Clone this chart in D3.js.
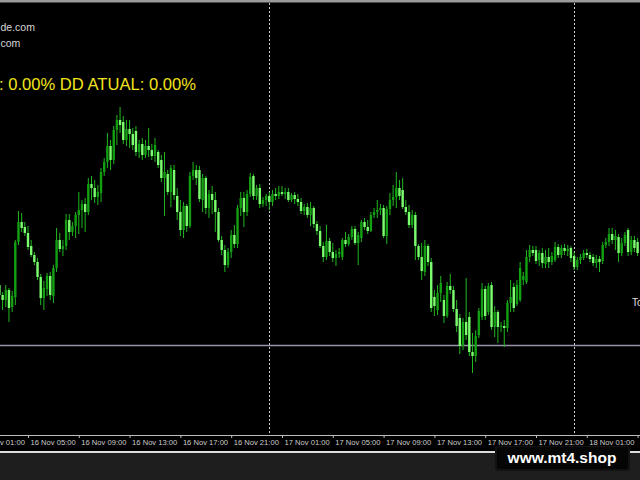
<!DOCTYPE html>
<html><head><meta charset="utf-8">
<script src="https://cdn.jsdelivr.net/npm/d3@7"></script>
<style>html,body{margin:0;padding:0;background:#000;overflow:hidden}</style>
</head><body>
<svg id="c" width="640" height="480"></svg>
<script>
// ---- data (XAUUSD M15) ----
const startTime = "2023-11-16T02:45:00Z";
const barMinutes = 15;
const opens = [
1971.5,1970.5,1970.0,1971.0,1969.3,1970.3,1975.8,1977.8,1977.3,1976.7,
1975.4,1974.5,1973.8,1972.3,1970.2,1971.1,1972.4,1970.4,1973.2,1976.0,
1975.1,1975.4,1978.0,1976.8,1977.4,1978.5,1979.0,1979.6,1978.8,1981.6,
1981.2,1980.3,1980.7,1982.8,1983.8,1985.4,1984.0,1987.0,1988.0,1987.8,
1986.0,1987.1,1986.6,1986.9,1984.8,1985.6,1984.5,1985.4,1985.0,1984.4,
1984.8,1984.0,1982.2,1982.6,1980.8,1983.0,1980.4,1978.8,1977.0,1979.4,
1977.4,1982.4,1983.0,1983.0,1980.0,1982.2,1979.2,1980.6,1980.0,1978.8,
1976.0,1975.0,1973.5,1974.8,1976.5,1975.6,1979.2,1980.2,1978.8,1980.6,
1982.4,1980.4,1981.2,1979.6,1980.0,1980.4,1979.8,1980.6,1980.4,1980.8,
1980.6,1980.8,1980.0,1980.5,1980.1,1979.8,1978.9,1979.3,1978.5,1979.2,
1977.6,1976.9,1975.4,1974.3,1975.9,1974.8,1974.2,1974.6,1974.3,1976.0,
1975.6,1976.3,1977.1,1975.7,1976.2,1977.8,1977.3,1976.9,1978.5,1978.8,
1979.0,1979.2,1976.4,1979.1,1980.0,1980.3,1981.2,1981.0,1979.3,1978.8,
1977.5,1978.5,1975.4,1974.3,1972.8,1975.4,1973.8,1970.3,1969.0,1970.7,
1970.0,1968.4,1971.4,1971.0,1969.1,1968.2,1965.4,1967.8,1968.3,1964.8,
1964.4,1966.5,1968.3,1971.1,1968.8,1971.5,1967.3,1968.8,1967.3,1967.4,
1967.2,1969.7,1971.3,1969.6,1970.0,1972.0,1971.8,1974.3,1975.0,1975.0,
1974.0,1974.7,1973.6,1974.3,1973.8,1974.0,1975.3,1974.5,1975.2,1974.9,
1975.2,1974.4,1973.3,1974.0,1974.2,1974.7,1974.5,1974.3,1973.7,1974.1,
1973.9,1975.5,1975.8,1976.6,1976.0,1976.3,1974.7,1975.7,1977.0,1974.8,
1976.0,1975.8];
const highs = [
1972.2,1970.8,1971.5,1971.2,1970.9,1976.0,1978.9,1978.7,1977.8,1977.4,
1976.0,1974.8,1974.2,1972.6,1971.9,1972.7,1972.8,1973.5,1977.2,1976.7,
1976.0,1978.6,1978.6,1977.8,1978.8,1980.8,1980.0,1980.2,1982.2,1982.4,
1982.0,1981.5,1983.2,1984.2,1986.7,1986.0,1987.4,1988.5,1989.3,1988.4,
1988.0,1988.0,1987.2,1987.4,1986.0,1986.2,1986.0,1987.2,1985.6,1986.2,
1985.0,1984.5,1984.8,1983.0,1983.5,1983.5,1981.2,1980.0,1979.8,1979.6,
1982.8,1983.8,1983.5,1983.4,1982.6,1982.4,1981.0,1981.4,1980.8,1979.2,
1976.4,1975.5,1975.2,1977.0,1977.5,1979.5,1980.8,1980.8,1981.0,1982.7,
1982.6,1981.5,1981.6,1980.3,1980.6,1980.8,1981.0,1981.2,1981.4,1981.4,
1981.2,1981.2,1980.7,1980.8,1980.6,1980.2,1979.6,1979.7,1979.8,1979.4,
1977.9,1977.4,1975.8,1977.5,1976.2,1975.7,1975.0,1975.2,1976.2,1976.8,
1976.6,1977.4,1977.4,1976.8,1978.0,1978.2,1978.0,1978.8,1979.2,1980.0,
1979.6,1979.5,1979.4,1980.7,1981.5,1982.8,1982.0,1982.2,1980.0,1979.5,
1979.0,1978.8,1975.6,1975.7,1976.0,1975.6,1974.2,1971.0,1971.5,1972.4,
1970.5,1971.8,1972.6,1971.4,1970.0,1968.6,1968.2,1972.2,1968.8,1966.7,
1967.0,1969.2,1971.7,1971.4,1971.7,1971.8,1969.4,1969.0,1967.8,1968.0,
1970.0,1972.0,1971.7,1972.0,1973.8,1972.8,1975.0,1975.5,1975.4,1975.4,
1975.0,1975.2,1975.0,1975.2,1974.8,1975.8,1975.6,1975.5,1975.6,1975.5,
1975.4,1974.8,1974.3,1974.6,1975.0,1975.1,1974.8,1974.6,1974.5,1974.4,
1975.8,1976.2,1977.2,1977.2,1977.0,1976.6,1976.2,1976.8,1977.2,1976.4,
1976.4,1976.2];
const lows = [
1970.0,1969.0,1969.3,1967.8,1968.8,1969.5,1975.5,1976.8,1976.4,1975.0,
1974.3,1973.5,1972.0,1969.5,1969.0,1970.4,1970.0,1969.7,1972.8,1974.8,
1974.4,1975.0,1976.0,1976.4,1976.2,1976.6,1977.2,1976.8,1978.5,1980.0,
1979.7,1979.5,1979.8,1982.4,1983.2,1983.0,1983.6,1985.5,1986.7,1985.6,
1985.4,1985.2,1985.0,1984.4,1984.2,1984.0,1984.2,1984.3,1984.0,1983.8,
1983.2,1981.8,1978.4,1980.5,1979.3,1980.0,1978.0,1976.4,1976.2,1976.8,
1977.2,1982.0,1981.5,1979.8,1978.8,1978.6,1978.2,1978.6,1976.8,1975.8,
1974.5,1972.8,1973.2,1974.2,1975.2,1975.2,1978.4,1977.3,1978.4,1980.3,
1980.0,1980.0,1979.2,1979.3,1979.4,1979.0,1979.4,1980.0,1980.1,1980.4,
1980.1,1979.8,1979.8,1979.6,1979.4,1978.6,1978.5,1978.2,1977.4,1977.2,
1976.5,1975.2,1973.8,1974.0,1974.4,1973.8,1973.4,1974.2,1974.0,1975.3,
1975.4,1976.0,1975.5,1973.5,1975.8,1977.0,1976.6,1976.8,1978.2,1978.2,
1978.5,1976.2,1975.6,1978.5,1979.4,1979.2,1980.0,1979.1,1978.5,1977.2,
1977.2,1974.0,1974.0,1972.0,1972.4,1973.4,1968.8,1968.4,1968.5,1969.8,
1967.7,1968.2,1970.6,1968.8,1966.8,1964.6,1965.0,1966.0,1964.4,1962.7,
1963.8,1966.2,1968.0,1968.0,1968.5,1967.0,1966.3,1965.7,1966.8,1965.3,
1966.8,1968.8,1968.8,1969.4,1969.8,1971.5,1971.6,1973.8,1974.4,1973.6,
1973.4,1973.2,1973.2,1973.2,1973.5,1973.8,1974.2,1974.2,1974.5,1974.4,
1973.8,1973.0,1973.0,1973.6,1974.0,1974.2,1973.8,1973.4,1973.2,1972.8,
1973.6,1975.2,1975.4,1975.6,1975.0,1973.8,1974.4,1975.4,1974.4,1974.5,
1974.8,1974.4];
const closes = [
1970.5,1970.0,1971.0,1969.2,1970.4,1975.8,1977.8,1977.2,1976.7,1975.3,
1974.5,1973.8,1972.3,1970.2,1971.2,1972.4,1970.5,1973.2,1976.0,1975.1,
1975.4,1978.0,1976.8,1977.4,1978.5,1979.0,1979.6,1978.8,1981.6,1981.2,
1980.3,1980.8,1982.8,1983.8,1985.4,1984.0,1987.0,1988.0,1987.5,1986.0,
1987.1,1986.6,1985.5,1984.8,1985.6,1984.5,1985.4,1985.0,1984.4,1985.5,
1983.5,1982.2,1982.8,1980.8,1983.2,1980.5,1978.8,1977.0,1979.4,1977.4,
1982.4,1983.0,1982.2,1980.1,1982.2,1979.2,1980.6,1980.0,1978.8,1976.0,
1975.0,1973.5,1974.8,1976.5,1975.6,1979.2,1980.2,1978.8,1980.6,1982.3,
1980.4,1981.2,1979.6,1980.0,1980.4,1979.8,1980.6,1980.4,1980.8,1980.6,
1980.8,1980.0,1980.5,1980.1,1979.8,1978.9,1979.3,1978.5,1979.2,1977.6,
1976.9,1975.4,1974.3,1975.9,1974.8,1974.2,1974.6,1974.8,1976.0,1975.6,
1976.3,1977.1,1975.7,1976.5,1977.8,1977.3,1976.9,1978.5,1978.8,1979.0,
1979.2,1976.4,1979.1,1980.0,1980.3,1981.2,1980.4,1979.3,1978.8,1977.5,
1978.5,1975.4,1974.3,1972.9,1975.4,1973.8,1969.2,1969.4,1970.7,1971.7,
1968.4,1971.4,1971.0,1969.1,1967.4,1965.4,1967.8,1966.5,1964.8,1964.4,
1966.4,1968.9,1971.1,1968.4,1971.4,1967.3,1968.8,1967.3,1967.4,1967.2,
1969.7,1970.3,1969.2,1971.5,1973.2,1972.4,1974.3,1975.0,1974.7,1973.9,
1974.7,1973.7,1974.3,1973.8,1974.4,1975.3,1974.5,1975.2,1974.9,1975.1,
1974.2,1973.3,1974.0,1974.3,1974.7,1974.5,1974.1,1973.7,1974.1,1973.8,
1975.5,1975.8,1976.6,1976.0,1976.4,1974.7,1975.7,1976.5,1974.8,1976.0,
1975.2,1974.7];
const tickLabels = ["16 Nov 01:00","16 Nov 05:00","16 Nov 09:00","16 Nov 13:00","16 Nov 17:00","16 Nov 21:00",
  "17 Nov 01:00","17 Nov 05:00","17 Nov 09:00","17 Nov 13:00","17 Nov 17:00","17 Nov 21:00","18 Nov 01:00","18 Nov 05:00"];
const daySeparators = ["17 Nov 00:00","18 Nov 00:00"];
const levelPrice = 1965.5;
const infoLines = ["de.com", "com"];
const ddText = "DD MAX: 0.00% DD ATUAL: 0.00%";
const rightLabel = "Today";
const watermark = "www.mt4.shop";

// ---- layout ----
const W = 640, H = 480;
const plotTop = 3, plotBottom = 435, axisBottom = 451;
const parseT = s => d3.utcParse("%Y %d %b %H:%M")("2023 " + s);
const svg = d3.select("#c");

const x = d3.scaleUtc()
  .domain([parseT("16 Nov 00:00"), parseT("18 Nov 00:00")])
  .range([-35.5, 574.1]);
const y = d3.scaleLinear().domain([1956.6, 1999.7]).range([434, plotTop]);

const t0 = d3.isoParse(startTime);
const bars = closes.map((c, i) => ({
  t: d3.utcMinute.offset(t0, i * barMinutes),
  o: opens[i], h: highs[i], l: lows[i], c
}));

// backgrounds
svg.append("rect").attr("width", W).attr("height", H).attr("fill", "#000");
svg.append("rect").attr("x", 0).attr("y", 0).attr("width", W).attr("height", 2).attr("fill", "#9c9c9c");
svg.append("rect").attr("x", 0).attr("y", 2).attr("width", W).attr("height", 1).attr("fill", "#4a4a4a");
svg.append("rect").attr("x", 0).attr("y", axisBottom).attr("width", W).attr("height", H - axisBottom).attr("fill", "#1e1e1e");
svg.append("rect").attr("x", 0).attr("y", axisBottom).attr("width", W).attr("height", 2).attr("fill", "#dcdcdc");

svg.append("defs").append("clipPath").attr("id", "plot")
  .append("rect").attr("x", 0).attr("y", plotTop).attr("width", W).attr("height", plotBottom - plotTop);

const plot = svg.append("g").attr("clip-path", "url(#plot)");

// day separators
plot.selectAll("line.sep").data(daySeparators).join("line")
  .attr("class", "sep")
  .attr("x1", d => Math.round(x(parseT(d))) + 0.5).attr("x2", d => Math.round(x(parseT(d))) + 0.5)
  .attr("y1", plotTop).attr("y2", plotBottom)
  .attr("stroke", "#cfcfcf").attr("stroke-width", 1).attr("stroke-dasharray", "2,2");

// horizontal level
plot.append("line")
  .attr("x1", 0).attr("x2", W)
  .attr("y1", Math.round(y(levelPrice)) + 0.5).attr("y2", Math.round(y(levelPrice)) + 0.5)
  .attr("stroke", "#9494ac").attr("stroke-width", 1.5);

// candles
const bw = 2.4;
const g = plot.selectAll("g.bar").data(bars).join("g").attr("class", "bar");
g.append("line")
  .attr("x1", d => x(d.t)).attr("x2", d => x(d.t))
  .attr("y1", d => y(d.h)).attr("y2", d => y(d.l))
  .attr("stroke", "#1fb81f").attr("stroke-width", 1);
g.append("rect")
  .attr("x", d => x(d.t) - bw / 2)
  .attr("y", d => y(Math.max(d.o, d.c)))
  .attr("width", bw)
  .attr("height", d => Math.max(1, Math.abs(y(d.o) - y(d.c))))
  .attr("fill", d => d.c >= d.o ? "#12a012" : "#7cff6e");

// time axis
svg.append("line").attr("x1", 0).attr("x2", W).attr("y1", plotBottom + 0.5).attr("y2", plotBottom + 0.5)
  .attr("stroke", "#bdbdbd").attr("stroke-width", 1);
const axis = d3.axisBottom(x)
  .tickValues(tickLabels.map(parseT))
  .tickSize(3)
  .tickFormat(d3.utcFormat("%d %b %H:%M"));
const ax = svg.append("g").attr("transform", `translate(0,${plotBottom})`).call(axis);
ax.select(".domain").remove();
ax.selectAll(".tick line").attr("stroke", "#bdbdbd");
ax.selectAll(".tick text")
  .attr("text-anchor", "start").attr("x", 2).attr("y", 4.5)
  .attr("fill", "#cccccc")
  .style("font-family", "'Liberation Sans', Arial, sans-serif")
  .style("font-size", "7.6px");

// info texts
svg.selectAll("text.info").data(infoLines).join("text")
  .attr("class", "info")
  .attr("x", 0.5)
  .attr("y", (d, i) => i === 0 ? 31 : 47)
  .attr("fill", "#d6d6d6")
  .style("font-family", "'Liberation Sans', Arial, sans-serif")
  .style("font-size", "10.5px")
  .text(d => d);

svg.append("text")
  .attr("x", 196).attr("y", 90).attr("text-anchor", "end")
  .attr("fill", "#f2e41c")
  .style("font-family", "'Liberation Sans', Arial, sans-serif")
  .style("font-size", "16.6px")
  .text(ddText);

svg.append("text")
  .attr("x", 632).attr("y", 306)
  .attr("fill", "#e0e0e0")
  .style("font-family", "'Liberation Sans', Arial, sans-serif")
  .style("font-size", "10px")
  .text(rightLabel);

// watermark
svg.append("rect").attr("x", 495).attr("y", 446).attr("width", 135).attr("height", 25).attr("rx", 3).attr("fill", "#121212");
svg.append("rect").attr("x", 497).attr("y", 447).attr("width", 131).attr("height", 22).attr("rx", 2).attr("fill", "#050505");
svg.append("text")
  .attr("x", 562).attr("y", 462.5).attr("text-anchor", "middle")
  .attr("fill", "#ffffff")
  .style("font-family", "'Liberation Sans', Arial, sans-serif")
  .style("font-weight", "bold")
  .style("font-size", "15.5px")
  .text(watermark);
</script>
</body></html>
